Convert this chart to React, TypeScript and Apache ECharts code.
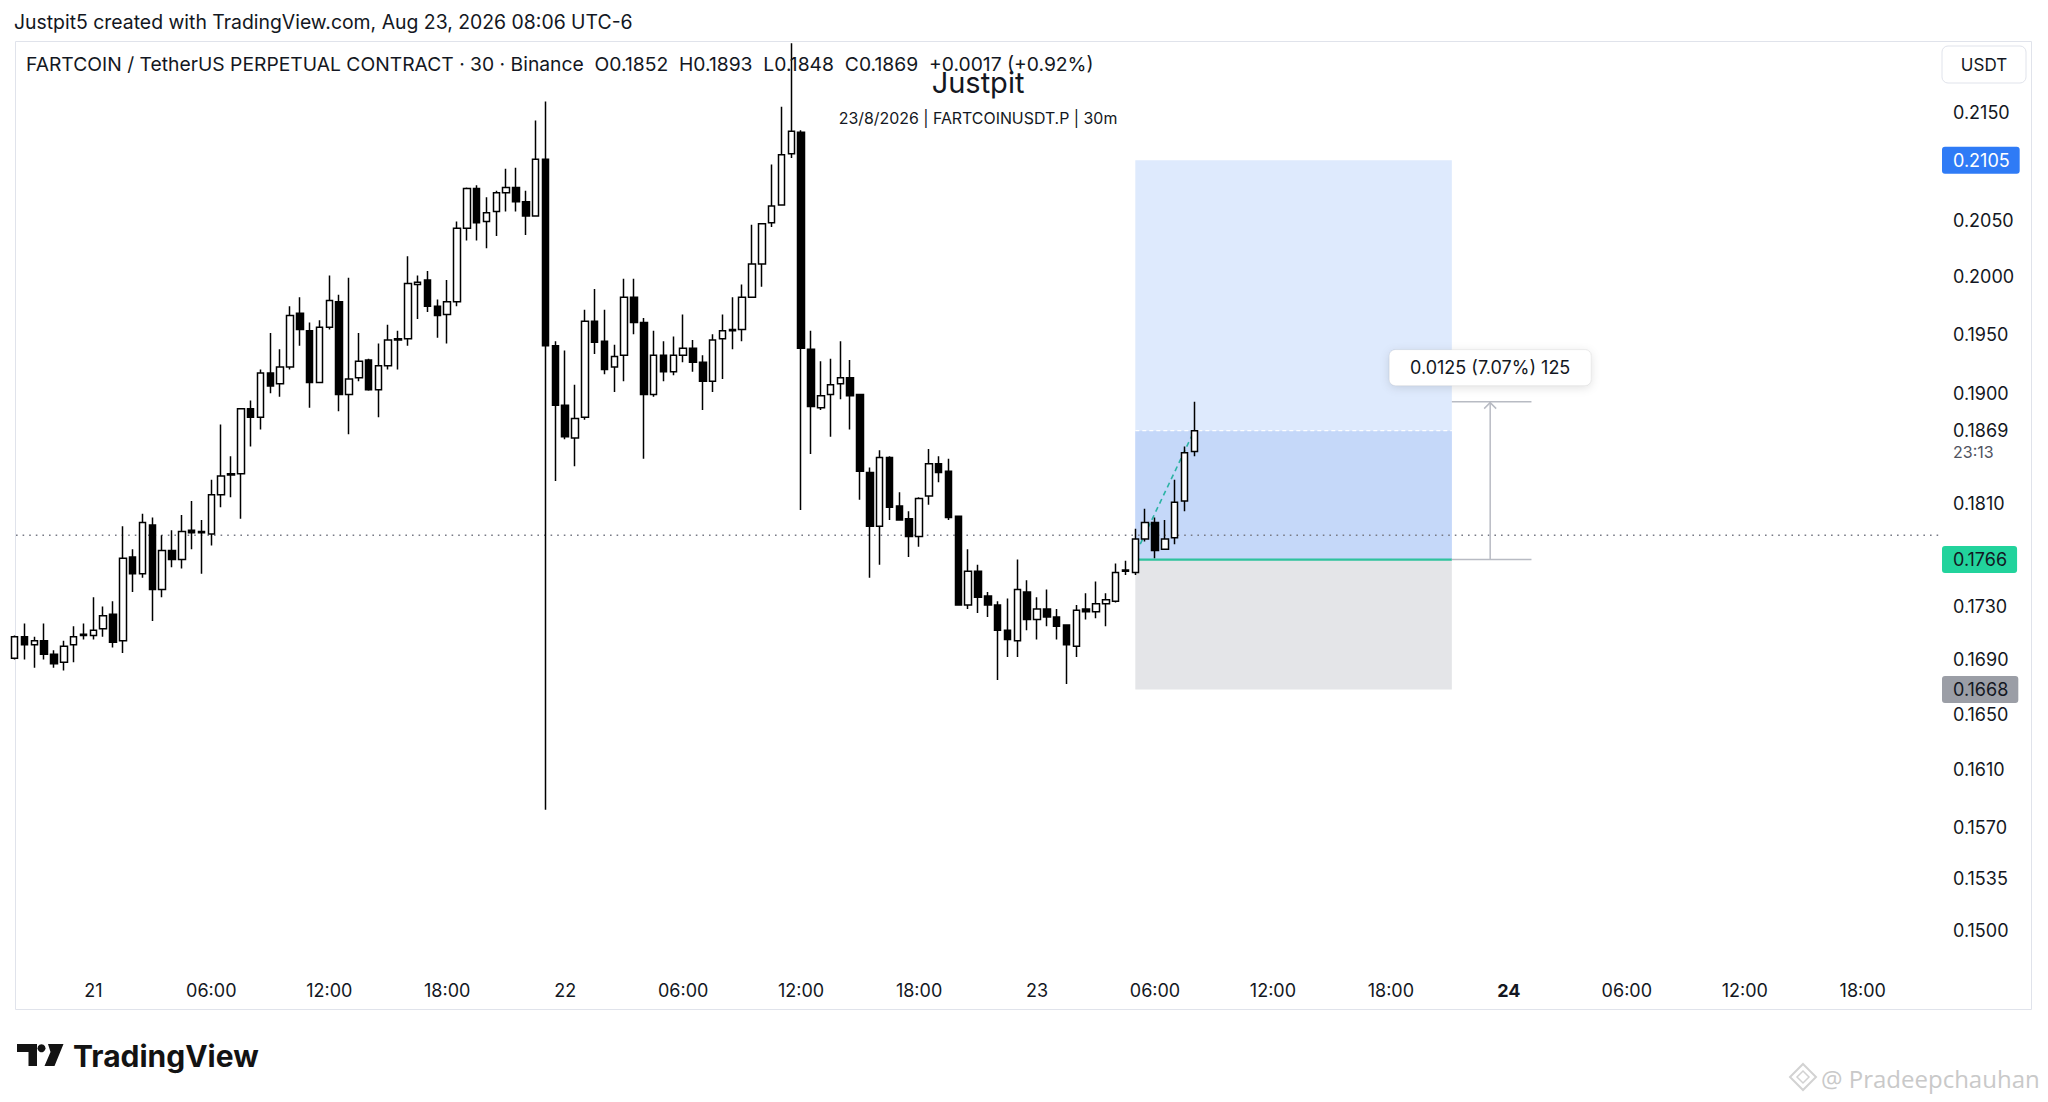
import React, { useEffect, useRef } from 'react';
import * as echarts from 'echarts';

// ---- 30m candles, bar index 0 = 20 Aug 20:00, bar 120 = 23 Aug 08:00 ----
const openPrices = [
  0.1691, 0.1707, 0.1701, 0.1704, 0.1694, 0.1688, 0.1701, 0.1708, 0.1708, 0.1713,
  0.1724, 0.1704, 0.1768, 0.1755, 0.1793, 0.1743, 0.1773, 0.1766, 0.1789, 0.1787,
  0.1786, 0.1817, 0.1833, 0.1834, 0.1887, 0.1880, 0.1917, 0.1908, 0.1922, 0.1968,
  0.1953, 0.1909, 0.1956, 0.1978, 0.1899, 0.1913, 0.1928, 0.1903, 0.1923, 0.1946,
  0.1946, 0.1993, 0.1997, 0.1974, 0.1967, 0.1978, 0.2043, 0.2079, 0.2049, 0.2058,
  0.2075, 0.2080, 0.2067, 0.2054, 0.2106, 0.1940, 0.1890, 0.1863, 0.1880, 0.1961,
  0.1944, 0.1922, 0.1932, 0.1982, 0.1960, 0.1899, 0.1932, 0.1918, 0.1932, 0.1938,
  0.1926, 0.1910, 0.1946, 0.1953, 0.1954, 0.1982, 0.2011, 0.2048, 0.2064, 0.2111,
  0.2131, 0.1937, 0.1888, 0.1899, 0.1908, 0.1913, 0.1899, 0.1835, 0.1792, 0.1847,
  0.1808, 0.1798, 0.1784, 0.1816, 0.1842, 0.1836, 0.1800, 0.1731, 0.1757, 0.1738,
  0.1731, 0.1712, 0.1704, 0.1741, 0.1720, 0.1728, 0.1722, 0.1716, 0.1700, 0.1728,
  0.1726, 0.1732, 0.1734, 0.1757, 0.1756, 0.1782, 0.1795, 0.1774, 0.1783, 0.1812,
  0.1852,
];
const highPrices = [
  0.1708, 0.1717, 0.1707, 0.1717, 0.1697, 0.1704, 0.1715, 0.1717, 0.1737, 0.1730,
  0.1734, 0.1792, 0.1774, 0.1802, 0.1799, 0.1785, 0.1789, 0.1801, 0.1812, 0.1797,
  0.1829, 0.1874, 0.1848, 0.1887, 0.1894, 0.1920, 0.1951, 0.1937, 0.1974, 0.1982,
  0.1960, 0.1962, 0.2001, 0.1984, 0.1999, 0.1951, 0.1929, 0.1942, 0.1958, 0.1953,
  0.2018, 0.2001, 0.2005, 0.1980, 0.1997, 0.2049, 0.2080, 0.2082, 0.2071, 0.2077,
  0.2097, 0.2098, 0.2077, 0.2142, 0.2160, 0.1944, 0.1936, 0.1907, 0.1971, 0.1989,
  0.1971, 0.1941, 0.1998, 0.1998, 0.1964, 0.1953, 0.1944, 0.1948, 0.1967, 0.1945,
  0.1932, 0.1950, 0.1967, 0.1982, 0.1993, 0.2046, 0.2047, 0.2101, 0.2155, 0.2216,
  0.2133, 0.1953, 0.1927, 0.1929, 0.1944, 0.1928, 0.1899, 0.1839, 0.1853, 0.1848,
  0.1819, 0.1804, 0.1815, 0.1854, 0.1848, 0.1846, 0.1800, 0.1774, 0.1762, 0.1741,
  0.1734, 0.1736, 0.1766, 0.1750, 0.1737, 0.1743, 0.1728, 0.1716, 0.1731, 0.1740,
  0.1749, 0.1740, 0.1763, 0.1765, 0.1790, 0.1806, 0.1799, 0.1797, 0.1829, 0.1856,
  0.1893,
];
const lowPrices = [
  0.1690, 0.1690, 0.1684, 0.1690, 0.1684, 0.1682, 0.1688, 0.1705, 0.1705, 0.1707,
  0.1699, 0.1695, 0.1741, 0.1752, 0.1719, 0.1737, 0.1760, 0.1759, 0.1774, 0.1755,
  0.1777, 0.1807, 0.1815, 0.1798, 0.1856, 0.1870, 0.1900, 0.1897, 0.1920, 0.1940,
  0.1888, 0.1909, 0.1954, 0.1885, 0.1866, 0.1910, 0.1902, 0.1880, 0.1920, 0.1920,
  0.1940, 0.1963, 0.1969, 0.1947, 0.1942, 0.1974, 0.2032, 0.2032, 0.2025, 0.2036,
  0.2058, 0.2058, 0.2037, 0.2054, 0.1582, 0.1828, 0.1862, 0.1840, 0.1878, 0.1933,
  0.1916, 0.1901, 0.1910, 0.1950, 0.1846, 0.1897, 0.1910, 0.1915, 0.1926, 0.1918,
  0.1886, 0.1901, 0.1912, 0.1937, 0.1944, 0.1982, 0.1991, 0.2044, 0.2064, 0.2107,
  0.1805, 0.1850, 0.1886, 0.1864, 0.1895, 0.1870, 0.1813, 0.1752, 0.1762, 0.1797,
  0.1797, 0.1768, 0.1776, 0.1809, 0.1827, 0.1797, 0.1731, 0.1728, 0.1725, 0.1722,
  0.1675, 0.1692, 0.1692, 0.1712, 0.1705, 0.1715, 0.1705, 0.1672, 0.1692, 0.1720,
  0.1721, 0.1715, 0.1733, 0.1754, 0.1754, 0.1780, 0.1767, 0.1774, 0.1778, 0.1804,
  0.1848,
];
const closePrices = [
  0.1707, 0.1701, 0.1704, 0.1694, 0.1687, 0.1700, 0.1707, 0.1709, 0.1712, 0.1723,
  0.1703, 0.1767, 0.1755, 0.1795, 0.1743, 0.1773, 0.1766, 0.1788, 0.1787, 0.1788,
  0.1817, 0.1832, 0.1834, 0.1887, 0.1880, 0.1917, 0.1906, 0.1922, 0.1966, 0.1954,
  0.1909, 0.1956, 0.1979, 0.1899, 0.1912, 0.1927, 0.1903, 0.1923, 0.1945, 0.1945,
  0.1994, 0.1995, 0.1974, 0.1966, 0.1978, 0.2043, 0.2079, 0.2048, 0.2057, 0.2075,
  0.2080, 0.2067, 0.2054, 0.2106, 0.1940, 0.1890, 0.1864, 0.1879, 0.1961, 0.1943,
  0.1920, 0.1931, 0.1982, 0.1960, 0.1899, 0.1932, 0.1918, 0.1932, 0.1938, 0.1926,
  0.1910, 0.1945, 0.1953, 0.1954, 0.1982, 0.2011, 0.2047, 0.2063, 0.2110, 0.2132,
  0.1938, 0.1889, 0.1898, 0.1907, 0.1913, 0.1898, 0.1836, 0.1792, 0.1847, 0.1807,
  0.1797, 0.1784, 0.1814, 0.1842, 0.1835, 0.1799, 0.1731, 0.1757, 0.1737, 0.1731,
  0.1712, 0.1705, 0.1743, 0.1720, 0.1728, 0.1722, 0.1715, 0.1701, 0.1727, 0.1726,
  0.1732, 0.1735, 0.1756, 0.1758, 0.1782, 0.1795, 0.1773, 0.1782, 0.1811, 0.1851,
  0.1869,
];

// ---- time axis ticks (bar index -> label) ----
const timeTickBars = [8, 20, 32, 44, 56, 68, 80, 92, 104, 116, 128, 140, 152, 164, 176, 188];
const timeTickLabels = ['21', '06:00', '12:00', '18:00', '22', '06:00', '12:00', '18:00', '23', '06:00', '12:00', '18:00', '24', '06:00', '12:00', '18:00'];
const boldTimeTicks = ['24'];

// ---- price scale ticks ----
const priceTicks = [0.215, 0.205, 0.2, 0.195, 0.19, 0.181, 0.173, 0.169, 0.165, 0.161, 0.157, 0.1535, 0.15];

// ---- long position tool & drawings ----
const entryPrice = 0.1766;
const takeProfitPrice = 0.2105;
const stopLossPrice = 0.1668;
const lastPrice = 0.1869;
const countdownText = '23:13';
const levelLinePrice = 0.1785;
const positionBars = [114, 146.2];
const tradePathBars = [114.5, 120];
const tradePathPrices = [0.1778, 0.1869];
const measureBars = [146.2, 150.1, 154.3];
const measurePrices = [0.1766, 0.1893];
const measureText = '0.0125 (7.07%) 125';

// ---- axis ranges (visible window) ----
const X_MIN = 0.132;
const X_MAX = 195.86;
const Y_MIN = 0.14757;
const Y_MAX = 0.22173;

const FONT = 'Inter, Roboto, sans-serif';
const INK = '#131722';

export default function App() {
  const ref = useRef<HTMLDivElement>(null);

  useEffect(() => {
    if (!ref.current) return;
    const chart = echarts.init(ref.current, undefined, { renderer: 'svg' });

    const candleData = openPrices.map((o, i) => [i, o, closePrices[i], lowPrices[i], highPrices[i]]);

    const zoneData = [
      [positionBars[0], positionBars[1], entryPrice, takeProfitPrice, 0],
      [positionBars[0], positionBars[1], entryPrice, lastPrice, 1],
      [positionBars[0], positionBars[1], stopLossPrice, entryPrice, 2],
    ];
    const zoneColors = ['#deeafd', '#c5d8f9', '#e4e5e8'];

    const segData = [
      [X_MIN, levelLinePrice, X_MAX, levelLinePrice, 2],
      [positionBars[0], entryPrice, positionBars[1], entryPrice, 0],
      [positionBars[0], lastPrice, positionBars[1], lastPrice, 1],
    ];
    const segStyles = [
      { stroke: '#2fc29e', lineWidth: 2.2, lineDash: null as any },
      { stroke: 'rgba(255,255,255,0.95)', lineWidth: 1.2, lineDash: [4, 3] },
      { stroke: '#787b86', lineWidth: 1.6, lineDash: [1.6, 5] },
    ];

    const measureData = [
      [measureBars[0], measurePrices[0], measureBars[2], measurePrices[0], 0],
      [measureBars[0], measurePrices[1], measureBars[2], measurePrices[1], 0],
      [measureBars[1], measurePrices[0], measureBars[1], measurePrices[1], 1],
    ];

    // price scale labels: [x, price, style]
    const priceLabelData = [
      ...priceTicks.map((v) => [X_MAX, v, 0]),
      [X_MAX, stopLossPrice, 3],
      [X_MAX, entryPrice, 2],
      [X_MAX, takeProfitPrice, 1],
      [X_MAX, lastPrice, 4],
      [X_MAX, lastPrice, 5],
    ];
    const labelStyles = [
      { bg: 'transparent', fg: INK, size: 18, dy: 0 },
      { bg: '#2f7bf6', fg: '#ffffff', size: 18, dy: 0 },
      { bg: '#22d39c', fg: INK, size: 18, dy: 0 },
      { bg: '#9b9ea6', fg: INK, size: 18, dy: 0 },
      { bg: 'transparent', fg: INK, size: 18, dy: 0 },
      { bg: 'transparent', fg: '#50535e', size: 16, dy: 21 },
    ];

    const option: any = {
      animation: false,
      backgroundColor: '#ffffff',
      textStyle: { fontFamily: FONT },
      grid: { left: 16, top: 42, width: 1924, height: 926, containLabel: false, outerBoundsMode: 'none' },
      xAxis: {
        type: 'value',
        min: X_MIN,
        max: X_MAX,
        axisLine: { show: false },
        axisTick: { show: false },
        splitLine: { show: false },
        axisLabel: {
          customValues: timeTickBars,
          margin: 13,
          fontSize: 18,
          color: INK,
          fontFamily: FONT,
          formatter: (v: number) => {
            const i = timeTickBars.indexOf(Math.round(v));
            if (i < 0) return '';
            const t = timeTickLabels[i];
            return boldTimeTicks.includes(t) ? `{b|${t}}` : t;
          },
          rich: { b: { fontWeight: 'bold', fontSize: 18, color: INK, fontFamily: FONT } },
        },
      },
      yAxis: {
        type: 'log',
        logBase: 10,
        min: Y_MIN,
        max: Y_MAX,
        position: 'right',
        axisLine: { show: false },
        axisTick: { show: false },
        axisLabel: { show: false },
        splitLine: { show: false },
      },
      series: [
        {
          type: 'custom',
          name: 'zones',
          z: 1,
          silent: true,
          encode: { x: [0, 1], y: [2, 3] },
          data: zoneData,
          renderItem: (params: any, api: any) => {
            const a = api.coord([api.value(0), api.value(2)]);
            const b = api.coord([api.value(1), api.value(3)]);
            return {
              type: 'rect',
              shape: { x: a[0], y: b[1], width: b[0] - a[0], height: a[1] - b[1] },
              style: { fill: zoneColors[api.value(4)] },
            };
          },
        },
        {
          type: 'custom',
          name: 'lines',
          z: 2,
          silent: true,
          encode: { x: [0, 2], y: [1, 3] },
          data: segData,
          renderItem: (params: any, api: any) => {
            const a = api.coord([api.value(0), api.value(1)]);
            const b = api.coord([api.value(2), api.value(3)]);
            const s = segStyles[api.value(4)];
            return {
              type: 'line',
              shape: { x1: a[0], y1: a[1], x2: b[0], y2: b[1] },
              style: { stroke: s.stroke, lineWidth: s.lineWidth, lineDash: s.lineDash },
            };
          },
        },
        {
          type: 'line',
          name: 'tradePath',
          z: 2,
          silent: true,
          symbol: 'none',
          data: tradePathBars.map((b, i) => [b, tradePathPrices[i]]),
          lineStyle: { color: '#2bb3a3', width: 1.6, type: [5, 4] },
        },
        {
          type: 'candlestick',
          name: 'FARTCOINUSDT.P',
          z: 3,
          clip: true,
          barWidth: 7,
          encode: { x: 0, y: [1, 2, 3, 4] },
          data: candleData,
          itemStyle: {
            color: '#ffffff',
            color0: '#000000',
            borderColor: '#000000',
            borderColor0: '#000000',
            borderColorDoji: '#000000',
            borderWidth: 1.5,
          },
        },
        {
          type: 'custom',
          name: 'measure',
          z: 5,
          silent: true,
          clip: false,
          encode: { x: [0, 2], y: [1, 3] },
          data: measureData,
          renderItem: (params: any, api: any) => {
            const a = api.coord([api.value(0), api.value(1)]);
            const b = api.coord([api.value(2), api.value(3)]);
            const children: any[] = [
              {
                type: 'line',
                shape: { x1: a[0], y1: a[1], x2: b[0], y2: b[1] },
                style: { stroke: '#b8bbc3', lineWidth: 1.5 },
              },
            ];
            if (api.value(4) === 1) {
              children.push({
                type: 'polyline',
                shape: { points: [[b[0] - 6, b[1] + 7], [b[0], b[1] + 1], [b[0] + 6, b[1] + 7]] },
                style: { stroke: '#b8bbc3', lineWidth: 1.5, fill: 'none' },
              });
              children.push({
                type: 'rect',
                shape: { x: b[0] - 101, y: b[1] - 52, width: 202, height: 36, r: 6 },
                style: {
                  fill: '#ffffff',
                  stroke: 'rgba(0,0,0,0.07)',
                  lineWidth: 1,
                  shadowBlur: 10,
                  shadowColor: 'rgba(0,0,0,0.12)',
                  shadowOffsetY: 2,
                },
              });
              children.push({
                type: 'text',
                x: b[0],
                y: b[1] - 34,
                style: {
                  text: measureText,
                  fill: INK,
                  fontSize: 18,
                  fontFamily: FONT,
                  align: 'center',
                  verticalAlign: 'middle',
                },
              });
            }
            return { type: 'group', children };
          },
        },
        {
          type: 'custom',
          name: 'priceScale',
          z: 6,
          silent: true,
          clip: false,
          encode: { x: 0, y: 1 },
          data: priceLabelData,
          renderItem: (params: any, api: any) => {
            const p = api.coord([api.value(0), api.value(1)]);
            const s = labelStyles[api.value(2)];
            const text = api.value(2) === 5 ? countdownText : Number(api.value(1)).toFixed(4);
            return {
              type: 'text',
              x: p[0] + 2,
              y: p[1] + s.dy,
              style: {
                text,
                fill: s.fg,
                fontSize: s.size,
                fontFamily: FONT,
                align: 'left',
                verticalAlign: 'middle',
                backgroundColor: s.bg,
                padding: [5, 10, 4, 11],
                borderRadius: 3,
              },
            };
          },
        },
      ],
      graphic: {
        elements: [
          {
            type: 'rect',
            z: 0,
            silent: true,
            shape: { x: 15.5, y: 41.5, width: 2016, height: 968 },
            style: { fill: 'none', stroke: '#e0e3eb', lineWidth: 1 },
          },
          {
            type: 'rect',
            z: 50,
            silent: true,
            shape: { x: 1942, y: 46, width: 84, height: 37, r: 6 },
            style: { fill: '#ffffff', stroke: '#e0e3eb', lineWidth: 1 },
          },
          {
            type: 'text',
            z: 51,
            x: 1984,
            y: 65,
            style: { text: 'USDT', fill: INK, fontSize: 17, fontFamily: FONT, align: 'center', verticalAlign: 'middle' },
          },
          {
            type: 'rect',
            z: 99,
            silent: true,
            shape: { x: 0, y: 0, width: 2048, height: 41 },
            style: { fill: '#ffffff' },
          },
          {
            type: 'text',
            z: 100,
            x: 14,
            y: 22,
            style: {
              text: 'Justpit5 created with TradingView.com, Aug 23, 2026 08:06 UTC-6',
              fill: INK,
              fontSize: 19.4,
              fontFamily: FONT,
              align: 'left',
              verticalAlign: 'middle',
            },
          },
          {
            type: 'text',
            z: 100,
            x: 26,
            y: 64,
            style: {
              text: 'FARTCOIN / TetherUS PERPETUAL CONTRACT · 30 · Binance  O0.1852  H0.1893  L0.1848  C0.1869  +0.0017 (+0.92%)',
              fill: INK,
              fontSize: 19.3,
              fontFamily: FONT,
              align: 'left',
              verticalAlign: 'middle',
            },
          },
          {
            type: 'text',
            z: 100,
            x: 978,
            y: 82,
            style: { text: 'Justpit', fill: INK, fontSize: 29, fontFamily: FONT, align: 'center', verticalAlign: 'middle' },
          },
          {
            type: 'text',
            z: 100,
            x: 978,
            y: 118,
            style: {
              text: '23/8/2026 | FARTCOINUSDT.P | 30m',
              fill: INK,
              fontSize: 15.9,
              fontFamily: FONT,
              align: 'center',
              verticalAlign: 'middle',
            },
          },
          // TradingView logo
          {
            type: 'polygon',
            z: 100,
            shape: { points: [[17, 1044], [37, 1044], [37, 1066], [28.5, 1066], [28.5, 1052], [17, 1052]] },
            style: { fill: '#131313' },
          },
          {
            type: 'circle',
            z: 100,
            shape: { cx: 41.5, cy: 1048.2, r: 4 },
            style: { fill: '#131313' },
          },
          {
            type: 'polygon',
            z: 100,
            shape: { points: [[48, 1044], [63.5, 1044], [54.5, 1066], [44.5, 1066], [50.5, 1052]] },
            style: { fill: '#131313' },
          },
          {
            type: 'text',
            z: 100,
            x: 73,
            y: 1056,
            style: {
              text: 'TradingView',
              fill: '#131313',
              fontSize: 30,
              fontWeight: 'bold',
              fontFamily: FONT,
              align: 'left',
              verticalAlign: 'middle',
            },
          },
          // watermark
          {
            type: 'polygon',
            z: 100,
            shape: { points: [[1803, 1064], [1816, 1077], [1803, 1090], [1790, 1077]] },
            style: { fill: 'none', stroke: '#d2d2d2', lineWidth: 2 },
          },
          {
            type: 'polygon',
            z: 100,
            shape: { points: [[1803, 1071], [1809, 1077], [1803, 1083], [1797, 1077]] },
            style: { fill: 'none', stroke: '#d2d2d2', lineWidth: 1.5 },
          },
          {
            type: 'text',
            z: 100,
            x: 1821,
            y: 1078,
            style: {
              text: '@ Pradeepchauhan',
              fill: '#c9c9c9',
              fontSize: 24,
              fontFamily: '"Open Sans", sans-serif',
              align: 'left',
              verticalAlign: 'middle',
            },
          },
        ],
      },
    };

    chart.setOption(option);
    return () => {
      chart.dispose();
    };
  }, []);

  return (
    <div
      ref={ref}
      style={{ position: 'absolute', left: 0, top: 0, width: 2048, height: 1102, background: '#ffffff' }}
    />
  );
}
